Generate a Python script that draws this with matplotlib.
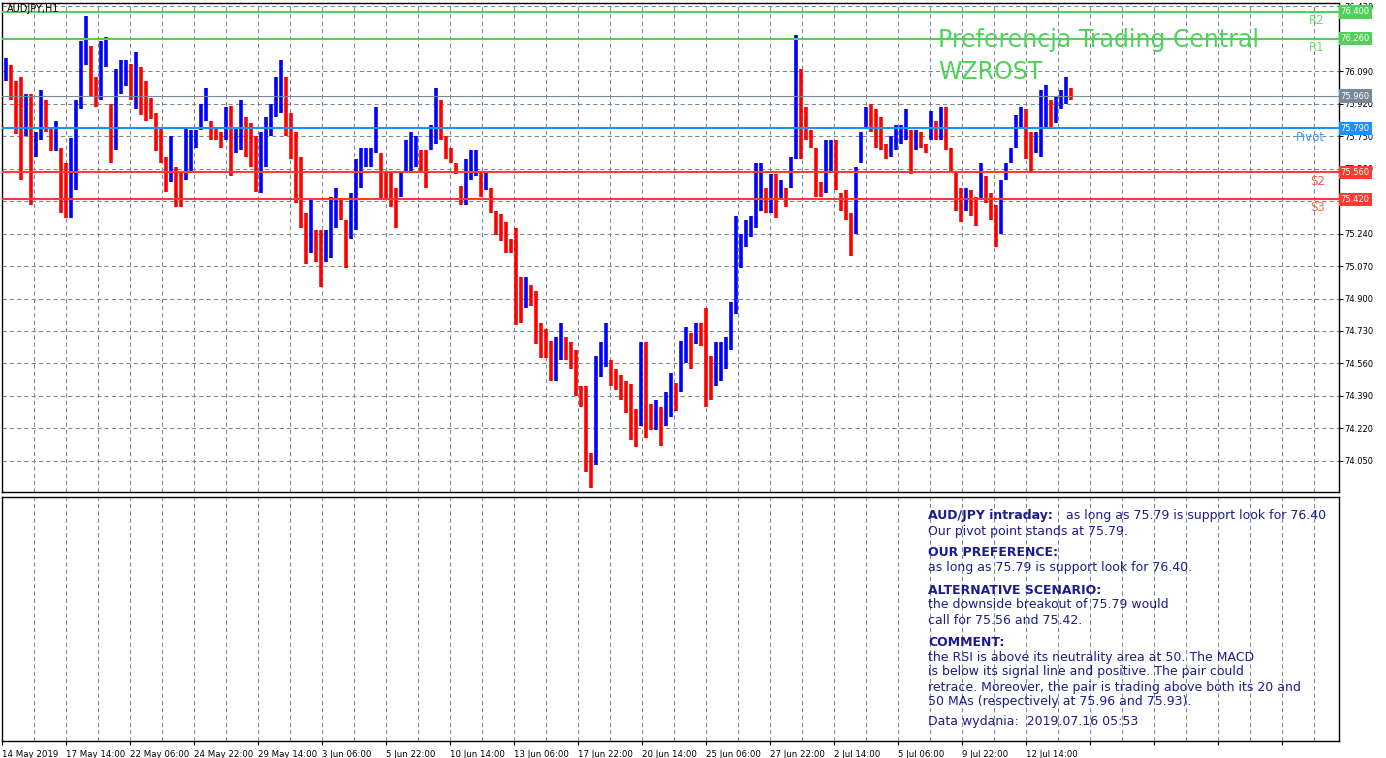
import numpy as np
import matplotlib.pyplot as plt

# AUDJPY H1, hourly bars grouped by 5 (high / low of each group)
bar_high = [
    76.16, 76.12, 76.04, 76.06, 75.97, 75.97, 75.77, 75.99, 75.94, 75.80,
    75.83, 75.69, 75.61, 75.74, 75.94, 76.25, 76.38, 76.22, 76.06, 76.25,
    76.27, 75.92, 76.10, 76.15, 76.15, 76.13, 76.19, 76.11, 76.04, 75.95,
    75.87, 75.80, 75.64, 75.75, 75.59, 75.57, 75.80, 75.78, 75.78, 75.92,
    76.00, 75.83, 75.80, 75.77, 75.90, 75.91, 75.80, 75.94, 75.85, 75.82,
    75.75, 75.77, 75.85, 75.92, 76.06, 76.15, 76.06, 75.87, 75.77, 75.64,
    75.35, 75.42, 75.26, 75.26, 75.26, 75.43, 75.48, 75.42, 75.31, 75.45,
    75.63, 75.69, 75.69, 75.69, 75.90, 75.66, 75.57, 75.56, 75.48, 75.57,
    75.73, 75.77, 75.75, 75.68, 75.68, 75.81, 76.00, 75.94, 75.75, 75.69,
    75.61, 75.49, 75.63, 75.68, 75.68, 75.56, 75.57, 75.48, 75.36, 75.34,
    75.30, 75.21, 75.27, 75.01, 75.01, 74.97, 74.94, 74.77, 74.74, 74.68,
    74.70, 74.77, 74.70, 74.67, 74.63, 74.44, 74.44, 74.09, 74.60, 74.67,
    74.77, 74.58, 74.53, 74.50, 74.47, 74.45, 74.32, 74.67, 74.67, 74.35,
    74.37, 74.33, 74.41, 74.51, 74.46, 74.68, 74.75, 74.72, 74.77, 74.77,
    74.85, 74.60, 74.67, 74.67, 74.70, 74.88, 75.33, 75.24, 75.31, 75.33,
    75.61, 75.61, 75.48, 75.55, 75.55, 75.52, 75.48, 75.64, 76.28, 76.10,
    75.90, 75.78, 75.69, 75.51, 75.73, 75.73, 75.73, 75.45, 75.47, 75.35,
    75.59, 75.77, 75.90, 75.92, 75.89, 75.85, 75.71, 75.75, 75.81, 75.81,
    75.89, 75.78, 75.78, 75.77, 75.71, 75.88, 75.83, 75.90, 75.90, 75.69,
    75.56, 75.48, 75.48, 75.47, 75.43, 75.61, 75.54, 75.45, 75.39, 75.52,
    75.61, 75.69, 75.86, 75.90, 75.89, 75.77, 75.77, 75.99, 76.02, 75.94,
    75.96, 75.99, 76.06, 76.00,
]
bar_low = [
    76.04, 75.94, 75.76, 75.52, 75.75, 75.39, 75.64, 75.73, 75.77, 75.67,
    75.67, 75.35, 75.32, 75.32, 75.47, 75.89, 76.12, 75.96, 75.90, 75.94,
    76.11, 75.61, 75.68, 75.97, 76.01, 75.94, 75.89, 75.86, 75.83, 75.84,
    75.67, 75.61, 75.46, 75.51, 75.38, 75.38, 75.52, 75.56, 75.69, 75.78,
    75.83, 75.73, 75.73, 75.69, 75.73, 75.54, 75.66, 75.68, 75.64, 75.59,
    75.46, 75.45, 75.59, 75.75, 75.85, 75.87, 75.75, 75.63, 75.40, 75.27,
    75.08, 75.14, 75.09, 74.96, 75.09, 75.11, 75.27, 75.31, 75.06, 75.21,
    75.26, 75.48, 75.59, 75.59, 75.66, 75.42, 75.42, 75.38, 75.27, 75.43,
    75.56, 75.57, 75.59, 75.57, 75.48, 75.68, 75.71, 75.73, 75.63, 75.61,
    75.55, 75.39, 75.39, 75.52, 75.54, 75.43, 75.47, 75.35, 75.23, 75.20,
    75.14, 75.14, 74.76, 74.77, 74.85, 74.86, 74.66, 74.59, 74.59, 74.47,
    74.47, 74.58, 74.58, 74.53, 74.39, 74.33, 73.99, 73.91, 74.03, 74.49,
    74.54, 74.44, 74.42, 74.37, 74.30, 74.16, 74.12, 74.23, 74.17, 74.21,
    74.21, 74.13, 74.23, 74.28, 74.31, 74.41, 74.56, 74.53, 74.66, 74.65,
    74.33, 74.37, 74.44, 74.47, 74.53, 74.63, 74.82, 75.06, 75.17, 75.22,
    75.27, 75.36, 75.35, 75.35, 75.32, 75.42, 75.38, 75.48, 75.63, 75.63,
    75.73, 75.69, 75.43, 75.43, 75.45, 75.57, 75.47, 75.36, 75.31, 75.12,
    75.24, 75.61, 75.80, 75.77, 75.69, 75.68, 75.63, 75.64, 75.68, 75.71,
    75.73, 75.55, 75.68, 75.69, 75.66, 75.73, 75.73, 75.73, 75.68, 75.56,
    75.36, 75.30, 75.36, 75.33, 75.28, 75.42, 75.40, 75.31, 75.17, 75.24,
    75.52, 75.61, 75.69, 75.80, 75.63, 75.56, 75.66, 75.64, 75.80, 75.80,
    75.82, 75.89, 75.92, 75.94,
]
group_size = 5

levels = [76.40, 76.26, 75.79, 75.56, 75.42]
level_names = ["R2", "R1", "Pivot", "S2", "S3"]
level_colors = ["#50d25a", "#50d25a", "#1e8fff", "#ff3b30", "#ff3b30"]
level_text_colors = ["#6fdc6f", "#6fdc6f", "#3d9bff", "#ff5a40", "#ff6a40"]
last_price = 75.96

price_ticks = [76.43, 76.26, 76.09, 75.92, 75.75, 75.58, 75.41, 75.24,
               75.07, 74.90, 74.73, 74.56, 74.39, 74.22, 74.05]
# labels that sit fully under a level box are not printed
hidden_ticks = [76.26, 75.41]
time_labels = ["14 May 2019", "17 May 14:00", "22 May 06:00", "24 May 22:00",
               "29 May 14:00", "3 Jun 06:00", "5 Jun 22:00", "10 Jun 14:00",
               "13 Jun 06:00", "17 Jun 22:00", "20 Jun 14:00", "25 Jun 06:00",
               "27 Jun 22:00", "2 Jul 14:00", "5 Jul 06:00", "9 Jul 22:00",
               "12 Jul 14:00"]
label_step = 64

comment_lines = [
    ("AUD/JPY intraday:", "as long as 75.79 is support look for 76.40", 516),
    (None, "Our pivot point stands at 75.79.", 531),
    ("OUR PREFERENCE:", None, 553),
    (None, "as long as 75.79 is support look for 76.40.", 568),
    ("ALTERNATIVE SCENARIO:", None, 590),
    (None, "the downside breakout of 75.79 would", 605),
    (None, "call for 75.56 and 75.42.", 620),
    ("COMMENT:", None, 642),
    (None, "the RSI is above its neutrality area at 50. The MACD", 657),
    (None, "is below its signal line and positive. The pair could", 672),
    (None, "retrace. Moreover, the pair is trading above both its 20 and", 687),
    (None, "50 MAs (respectively at 75.96 and 75.93).", 702),
    (None, "Data wydania:  2019.07.16 05:53", 722),
]

W, H = 1386, 758
fig = plt.figure(figsize=(W / 100, H / 100), dpi=100)


def px_box(left, top, right, bottom):
    return [left / W, 1 - bottom / H, (right - left) / W, (bottom - top) / H]


ax = fig.add_axes(px_box(2.3, 3, 1339, 492))
ax2 = fig.add_axes(px_box(2.3, 496.5, 1339, 741))

grid_kw = dict(color="#778899", linewidth=0.75, linestyle=(0, (4, 3)))
n_bars = 1336.7
major_x = np.arange(0, n_bars, label_step)
for a in (ax, ax2):
    a.set_xlim(0, n_bars)
    a.set_xticks(major_x)
    a.set_xticks(np.arange(label_step / 2, n_bars, label_step), minor=True)
    a.grid(axis="x", which="both", **grid_kw)
    a.set_axisbelow(True)
    for s in a.spines.values():
        s.set_color("black")
        s.set_linewidth(1.0)

# price bars
high = np.array(bar_high)
low = np.array(bar_low)
xs = 3.2 + group_size * np.arange(len(high))
mid = (high + low) / 2
up = np.r_[True, mid[1:] >= mid[:-1]]
colors = np.where(up, "#0000ff", "#ff0000")
ax.vlines(xs, low, high, colors=colors, linewidth=2.6, capstyle="butt", zorder=2)

ax.set_ylim(73.887, 76.447)
ax.set_yticks(price_ticks)
ax.set_yticklabels(["" if v in hidden_ticks else f"{v:.3f}" for v in price_ticks])
ax.grid(axis="y", **grid_kw)
ax.yaxis.tick_right()
ax.tick_params(axis="y", length=3, width=0.8, pad=1, labelsize=6, direction="out")
ax.tick_params(axis="x", which="both", length=0, labelbottom=False)

# pivot levels
for lv, name, c, tc in zip(levels, level_names, level_colors, level_text_colors):
    ax.axhline(lv, color=c, linewidth=1.5, zorder=4)
    ax.annotate(name, xy=(1322.7, lv), xytext=(0, -1.5), textcoords="offset points",
                ha="right", va="top", fontsize=8.5, color=tc, zorder=5)
ax.axhline(last_price, color="#778899", linewidth=0.8, zorder=4)

yt = ax.get_yaxis_transform()
for lv, c in zip(levels + [last_price], level_colors + ["#778899"]):
    ax.annotate(f"{lv:.3f}", xy=(1, lv), xycoords=yt, xytext=(1.2, 0),
                textcoords="offset points", ha="left", va="center", fontsize=6,
                color="white", zorder=6,
                bbox=dict(boxstyle="square,pad=0.25", fc=c, ec="none"))

fig.text(7 / W, 1 - 12.5 / H, "AUDJPY,H1", fontsize=7, va="baseline", color="black")
fig.text(938 / W, 1 - 40 / H, "Preferencja Trading Central", fontsize=17,
         color="#50d25a", va="center")
fig.text(938 / W, 1 - 72 / H, "WZROST", fontsize=17, color="#50d25a", va="center")

# lower panel
ax2.set_ylim(0, 1)
ax2.set_yticks([])
tick_text = time_labels + [""] * (len(major_x) - len(time_labels))
ax2.set_xticklabels(tick_text, fontsize=6.2,
                    family=["Liberation Sans Narrow", "DejaVu Sans"])
for lab in ax2.get_xticklabels():
    lab.set_ha("left")
ax2.tick_params(axis="x", which="major", length=3, width=0.8, pad=3.5)
ax2.tick_params(axis="x", which="minor", length=0)

navy = "#1c1c8c"
for bold, normal, y in comment_lines:
    if bold:
        fig.text(928 / W, 1 - y / H, bold, fontsize=9, fontweight="bold",
                 color=navy, va="center")
        if normal:
            fig.text(1066 / W, 1 - y / H, normal, fontsize=9, color=navy, va="center")
    else:
        fig.text(928 / W, 1 - y / H, normal, fontsize=9, color=navy, va="center")

fig.savefig("out.png", dpi=100, facecolor="white")
